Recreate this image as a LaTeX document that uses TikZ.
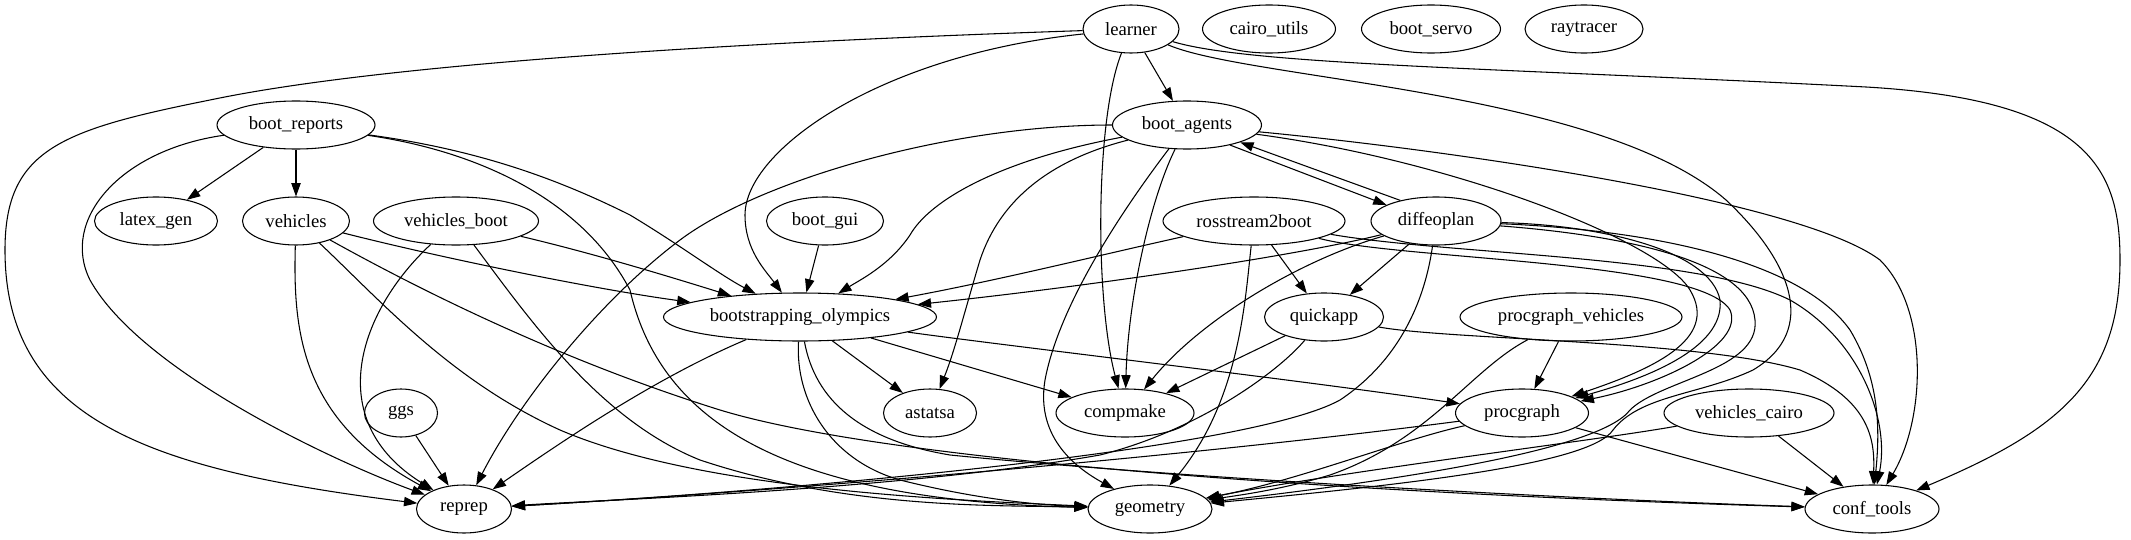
\documentclass[tikz,border=0pt]{standalone}
\usepackage{fontspec}
\setmainfont{Liberation Serif}
\usetikzlibrary{shapes.geometric,arrows.meta}
\begin{document}
\begin{tikzpicture}[x=0.75pt,y=-0.75pt,
  nd/.style={draw,ellipse,inner sep=0pt,minimum height=36pt,minimum width=#1*0.75pt,
    font=\fontsize{14}{16}\selectfont,line width=0.8pt},
  edge/.style={draw,line width=0.8pt,-{Triangle[length=10pt,width=7pt]}}]
\useasboundingbox (0,0) rectangle (2131,539);
% row 1
\node[nd=96]  (learner)     at (1131,29) {learner};
\node[nd=133] (cairo_utils) at (1269,29) {cairo\_utils};
\node[nd=139] (boot_servo)  at (1431,29) {boot\_servo};
\node[nd=118] (raytracer)   at (1584,29) {raytracer};
% row 2
\node[nd=158] (boot_reports) at (296,125) {boot\_reports};
\node[nd=149] (boot_agents)  at (1187,125) {boot\_agents};
% row 3
\node[nd=123] (latex_gen)      at (156,221) {latex\_gen};
\node[nd=107] (vehicles)       at (296,221) {vehicles};
\node[nd=165] (vehicles_boot)  at (456,221) {vehicles\_boot};
\node[nd=117] (boot_gui)       at (825,221) {boot\_gui};
\node[nd=182] (rosstream2boot) at (1254,221) {rosstream2boot};
\node[nd=130] (diffeoplan)     at (1436,221) {diffeoplan};
% row 4
\node[nd=273] (bo)                 at (800,317)  {bootstrapping\_olympics};
\node[nd=119] (quickapp)           at (1324,317) {quickapp};
\node[nd=222] (procgraph_vehicles) at (1571,317) {procgraph\_vehicles};
% row 5
\node[nd=73]  (ggs)            at (401,413)  {ggs};
\node[nd=93]  (astatsa)        at (930,413)  {astatsa};
\node[nd=138] (compmake)       at (1125,413) {compmake};
\node[nd=133] (procgraph)      at (1522,413) {procgraph};
\node[nd=170] (vehicles_cairo) at (1749,413) {vehicles\_cairo};
% row 6
\node[nd=95]  (reprep)     at (464,509)  {reprep};
\node[nd=124] (geometry)   at (1150,509) {geometry};
\node[nd=134] (conf_tools) at (1872,509) {conf\_tools};

% learner
\draw[edge] (learner) -- (boot_agents);
\draw[edge] (learner) .. controls (800,40) and (400,60) .. (210,100) .. controls (60,130) and (5,150) .. (5,250) .. controls (5,420) and (150,470) .. (reprep);
\draw[edge] (learner) .. controls (880,55) and (745,150) .. (745,215) .. controls (745,250) and (765,270) .. (bo);
\draw[edge] (learner) .. controls (1095,120) and (1095,300) .. (compmake);
\draw[edge] (learner) .. controls (1250,80) and (1600,90) .. (1726,200) .. controls (1790,260) and (1820,330) .. (1753,370) .. controls (1700,395) and (1640,395) .. (1613,430) .. controls (1590,465) and (1400,485) .. (geometry);
\draw[edge] (learner) .. controls (1250,65) and (1500,68) .. (1866,87) .. controls (2090,100) and (2120,170) .. (2120,260) .. controls (2120,380) and (2060,430) .. (conf_tools);

% boot_reports
\draw[edge] (boot_reports) -- (latex_gen);
\draw[edge] (boot_reports) -- (vehicles);
\draw[edge] (boot_reports) .. controls (120,150) and (60,220) .. (90,280) .. controls (140,370) and (330,460) .. (reprep);
\draw[edge] (boot_reports) .. controls (480,150) and (560,180) .. (630,215) .. controls (680,245) and (720,275) .. (bo);
\draw[edge] (boot_reports) .. controls (470,150) and (580,195) .. (630,290) .. controls (660,420) and (780,500) .. (geometry);

% vehicles
\draw[edge] (vehicles) .. controls (293,330) and (300,420) .. (reprep);
\draw[edge] (vehicles) .. controls (380,300) and (450,380) .. (560,430) .. controls (700,490) and (950,500) .. (geometry);
\draw[edge] (vehicles) .. controls (420,290) and (560,360) .. (720,410) .. controls (900,465) and (1400,495) .. (conf_tools);
\draw[edge] (vehicles) .. controls (450,260) and (600,290) .. (bo);

% vehicles_boot
\draw[edge] (vehicles_boot) .. controls (360,310) and (320,420) .. (reprep);
\draw[edge] (vehicles_boot) .. controls (530,320) and (600,420) .. (700,460) .. controls (850,510) and (1000,505) .. (geometry);
\draw[edge] (vehicles_boot) .. controls (600,255) and (680,280) .. (bo);

% boot_gui, ggs
\draw[edge] (boot_gui) -- (bo);
\draw[edge] (ggs) -- (reprep);

% boot_agents
\draw[edge] (boot_agents) .. controls (950,125) and (760,180) .. (680,240) .. controls (600,300) and (520,400) .. (reprep);
\draw[edge] (boot_agents) .. controls (1000,160) and (930,200) .. (910,235) .. controls (890,265) and (860,280) .. (bo);
\draw[edge] (boot_agents) .. controls (1050,160) and (1000,200) .. (980,260) .. controls (965,310) and (955,350) .. (astatsa);
\draw[edge] (boot_agents) .. controls (1130,200) and (1060,300) .. (1045,380) .. controls (1035,440) and (1080,470) .. (geometry);
\draw[edge] (boot_agents) .. controls (1150,200) and (1128,300) .. (compmake);
\draw[edge] (boot_agents.-25) -- (diffeoplan.162);
\draw[edge] (diffeoplan.150) -- (boot_agents.-18);
\draw[edge] (boot_agents) .. controls (1450,160) and (1660,240) .. (1690,290) .. controls (1720,340) and (1650,370) .. (procgraph);
\draw[edge] (boot_agents) .. controls (1450,150) and (1800,200) .. (1880,260) .. controls (1930,310) and (1925,420) .. (conf_tools);

% rosstream2boot
\draw[edge] (rosstream2boot) .. controls (1100,255) and (1000,280) .. (bo);
\draw[edge] (rosstream2boot) .. controls (1245,300) and (1240,400) .. (geometry);
\draw[edge] (rosstream2boot) -- (quickapp);
\draw[edge] (rosstream2boot) .. controls (1400,260) and (1700,260) .. (1730,310) .. controls (1745,345) and (1660,385) .. (procgraph);
\draw[edge] (rosstream2boot) .. controls (1450,255) and (1700,255) .. (1790,300) .. controls (1860,340) and (1890,420) .. (conf_tools);

% diffeoplan
\draw[edge] (diffeoplan) .. controls (1300,255) and (1100,285) .. (bo);
\draw[edge] (diffeoplan) .. controls (1300,260) and (1200,320) .. (compmake);
\draw[edge] (diffeoplan) -- (quickapp);
\draw[edge] (diffeoplan) .. controls (1425,300) and (1400,360) .. (1340,400) .. controls (1250,450) and (800,490) .. (reprep);
\draw[edge] (diffeoplan) .. controls (1600,225) and (1710,250) .. (1720,300) .. controls (1725,350) and (1640,380) .. (procgraph);
\draw[edge] (diffeoplan) .. controls (1650,230) and (1800,260) .. (1850,330) .. controls (1880,380) and (1880,430) .. (conf_tools);
\draw[edge] (diffeoplan) .. controls (1620,235) and (1750,260) .. (1755,320) .. controls (1760,370) and (1660,380) .. (1630,410) .. controls (1600,450) and (1400,480) .. (geometry);

% bootstrapping_olympics
\draw[edge] (bo) .. controls (650,380) and (550,450) .. (reprep);
\draw[edge] (bo) -- (astatsa);
\draw[edge] (bo) -- (compmake);
\draw[edge] (bo) .. controls (1000,345) and (1300,380) .. (procgraph);
\draw[edge] (bo) .. controls (795,400) and (830,460) .. (900,480) .. controls (980,500) and (1040,505) .. (geometry);
\draw[edge] (bo) .. controls (815,400) and (860,440) .. (950,455) .. controls (1200,480) and (1600,500) .. (conf_tools);

% quickapp
\draw[edge] (quickapp) -- (compmake);
\draw[edge] (quickapp) .. controls (1280,370) and (1200,430) .. (1100,455) .. controls (900,490) and (600,500) .. (reprep);
\draw[edge] (quickapp) .. controls (1450,340) and (1700,340) .. (1800,370) .. controls (1870,400) and (1875,440) .. (conf_tools);

% procgraph_vehicles
\draw[edge] (procgraph_vehicles) -- (procgraph);
\draw[edge] (procgraph_vehicles) .. controls (1470,370) and (1430,440) .. (1330,475) .. controls (1280,490) and (1240,495) .. (geometry);

% procgraph
\draw[edge] (procgraph) .. controls (1200,455) and (800,490) .. (reprep);
\draw[edge] (procgraph) .. controls (1400,440) and (1300,480) .. (geometry);
\draw[edge] (procgraph) -- (conf_tools);

% vehicles_cairo
\draw[edge] (vehicles_cairo) .. controls (1600,440) and (1350,470) .. (geometry);
\draw[edge] (vehicles_cairo) -- (conf_tools);
\end{tikzpicture}
\end{document}
